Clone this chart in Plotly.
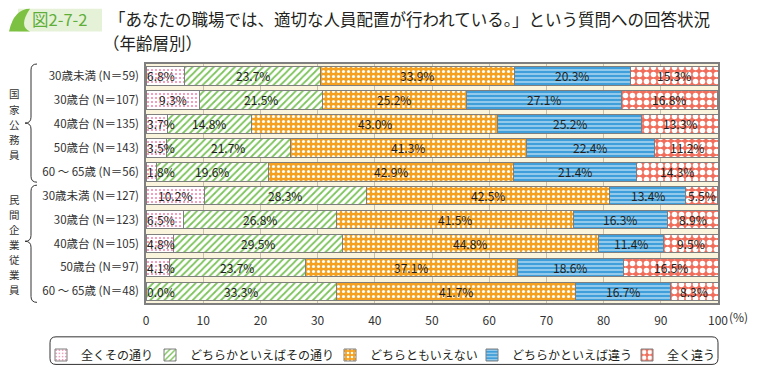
import plotly.graph_objects as go

# ---------------- data ----------------
categories = ["30歳未満 (N＝59)", "30歳台 (N＝107)", "40歳台 (N＝135)", "50歳台 (N＝143)", "60 ～ 65歳 (N＝56)",
              "30歳未満 (N＝127)", "30歳台 (N＝123)", "40歳台 (N＝105)", "50歳台 (N＝97)", "60 ～ 65歳 (N＝48)"]
answers = ["全くその通り", "どちらかといえばその通り", "どちらともいえない", "どちらかといえば違う", "全く違う"]
totally_agree = [6.8, 9.3, 3.7, 3.5, 1.8, 10.2, 6.5, 4.8, 4.1, 0.0]
somewhat_agree = [23.7, 21.5, 14.8, 21.7, 19.6, 28.3, 26.8, 29.5, 23.7, 33.3]
neither = [33.9, 25.2, 43.0, 41.3, 42.9, 42.5, 41.5, 44.8, 37.1, 41.7]
somewhat_disagree = [20.3, 27.1, 25.2, 22.4, 21.4, 13.4, 16.3, 11.4, 18.6, 16.7]
totally_disagree = [15.3, 16.8, 13.3, 11.2, 14.3, 5.5, 8.9, 9.5, 16.5, 8.3]
groups = ["国家公務員", "民間企業従業員"]
x_ticks = [0, 10, 20, 30, 40, 50, 60, 70, 80, 90, 100]
title_line1 = "「あなたの職場では、適切な人員配置が行われている。」という質問への回答状況"
title_line2 = "（年齢層別）"
fig_label = "図2-7-2"

series = [totally_agree, somewhat_agree, neither, somewhat_disagree, totally_disagree]

# ---------------- styles ----------------
FONT = "Noto Sans CJK JP"
TXT = "#231f20"
styles = [
    dict(bgcolor="#ffffff", fgcolor="#ef7fa8", shape=".", size=4, solidity=0.2),
    dict(bgcolor="#ffffff", fgcolor="#7cc35a", shape="/", size=5, solidity=0.35),
    dict(bgcolor="#f5a01e", fgcolor="#ffffff", shape=".", size=5, solidity=0.3),
    dict(bgcolor="#3e9fda", fgcolor="#ffffff", shape="-", size=4, solidity=0.22),
    dict(bgcolor="#f26e5c", fgcolor="#ffffff", shape=".", size=7, solidity=0.5),
]
# left pixel of each legend entry's text (reference pixels)
legend_text_left = [81, 190, 370, 512, 667]

# page body has an 8px margin: reference pixel p -> figure pixel p - 8
OFF = 8
W, H = 760 - OFF, 375 - OFF
L, R, T, B = 146 - OFF, 42, 64 - OFF, 68
PW, PH = W - L - R, H - T - B


def px(p):
    return (p - OFF - L) / PW


def py(p):
    return (H - B - (p - OFF)) / PH


fig = go.Figure()
legend_ids = ["legend", "legend2", "legend3", "legend4", "legend5"]
for name, vals, st, lid in zip(answers, series, styles, legend_ids):
    fig.add_trace(go.Bar(
        y=categories, x=vals, name=name, orientation="h", legend=lid,
        marker=dict(color=st["bgcolor"], line=dict(color="#7f7f7f", width=1),
                    pattern=dict(shape=st["shape"], bgcolor=st["bgcolor"], fgcolor=st["fgcolor"],
                                 size=st["size"], solidity=st["solidity"], fillmode="replace")),
        hoverinfo="skip",
    ))

annotations = []
# segment value labels
for i, cat in enumerate(categories):
    start = 0.0
    for k, vals in enumerate(series):
        v = vals[i]
        if k == 0 and v < 7:
            annotations.append(dict(x=start, y=cat, xref="x", yref="y", text=f"{v:.1f}%",
                                    showarrow=False, xanchor="left", xshift=-1,
                                    font=dict(size=12, color=TXT, family=FONT)))
        else:
            annotations.append(dict(x=start + v / 2, y=cat, xref="x", yref="y", text=f"{v:.1f}%",
                                    showarrow=False, xanchor="center",
                                    font=dict(size=12, color=TXT, family=FONT)))
        start += v

# group vertical labels (one glyph per annotation, stacked)
STEP = 15.3
for txt, yc in zip(groups, [125, 247]):
    n = len(txt)
    for j, ch in enumerate(txt):
        yy = yc + (j - (n - 1) / 2) * STEP
        annotations.append(dict(x=px(14), y=py(yy), xref="paper", yref="paper", text=ch,
                                showarrow=False, xanchor="center", yanchor="middle",
                                font=dict(size=10.5, color="#333333", family=FONT)))

# (%) unit label
annotations.append(dict(x=1, y=py(320), xref="paper", yref="paper", text="(%)", showarrow=False,
                        xanchor="left", yanchor="middle", xshift=9,
                        font=dict(size=12, color="#333333", family=FONT)))

# title
annotations.append(dict(x=px(107), y=py(18), xref="paper", yref="paper", text=title_line1,
                        showarrow=False, xanchor="left", yanchor="middle",
                        font=dict(size=16.5, color=TXT, family=FONT)))
annotations.append(dict(x=px(101), y=py(42.5), xref="paper", yref="paper", text=title_line2,
                        showarrow=False, xanchor="left", yanchor="middle",
                        font=dict(size=16.5, color=TXT, family=FONT)))
annotations.append(dict(x=px(30), y=py(18.5), xref="paper", yref="paper", text=fig_label,
                        showarrow=False, xanchor="left", yanchor="middle",
                        font=dict(size=16.5, color="#5fae3a", family=FONT)))


def brace(top, tip, bottom, xr=37, xm=31, xt=25):
    c = 6
    pts = [
        f"M{px(xr)},{py(top)}",
        f"Q{px(xm)},{py(top)} {px(xm)},{py(top + c)}",
        f"L{px(xm)},{py(tip - c)}",
        f"Q{px(xm)},{py(tip)} {px(xt)},{py(tip)}",
        f"Q{px(xm)},{py(tip)} {px(xm)},{py(tip + c)}",
        f"L{px(xm)},{py(bottom - c)}",
        f"Q{px(xm)},{py(bottom)} {px(xr)},{py(bottom)}",
    ]
    return " ".join(pts)


def rounded_rect(x0, y0, x1, y1, r):
    rx, ry = r / PW, r / PH
    X0, X1, Y0, Y1 = px(x0), px(x1), py(y0), py(y1)
    return (f"M{X0 + rx},{Y0} L{X1 - rx},{Y0} Q{X1},{Y0} {X1},{Y0 - ry} "
            f"L{X1},{Y1 + ry} Q{X1},{Y1} {X1 - rx},{Y1} L{X0 + rx},{Y1} "
            f"Q{X0},{Y1} {X0},{Y1 + ry} L{X0},{Y0 - ry} Q{X0},{Y0} {X0 + rx},{Y0} Z")


shapes = [
    dict(type="path", xref="paper", yref="paper", path=brace(64, 124, 184),
         line=dict(color="#333333", width=1)),
    dict(type="path", xref="paper", yref="paper", path=brace(187, 244, 306),
         line=dict(color="#333333", width=1)),
    # legend rounded box
    dict(type="path", xref="paper", yref="paper", path=rounded_rect(50, 341, 718, 369, 6),
         line=dict(color="#333333", width=1), fillcolor="rgba(0,0,0,0)"),
    # header label band
    dict(type="path", xref="paper", yref="paper", layer="below",
         path=(f"M{px(18)},{py(8)} L{px(102)},{py(8)} L{px(102)},{py(31)} L{px(18)},{py(31)} Z"),
         fillcolor="#e6f2d8", line=dict(width=0)),
    dict(type="path", xref="paper", yref="paper", layer="below",
         path=(f"M{px(30)},{py(8)} Q{px(14)},{py(8)} {px(9)},{py(31)} L{px(30)},{py(31)} "
               f"Q{px(18)},{py(26)} {px(30)},{py(8)} Z"),
         fillcolor="#7dc142", line=dict(width=0)),
]

legend_layout = {}
for lid, tl in zip(legend_ids, legend_text_left):
    legend_layout[lid] = dict(
        orientation="h", xref="container", yref="container",
        x=(tl - 40 - OFF) / W, xanchor="left", y=(375 - 355) / H, yanchor="middle",
        bgcolor="rgba(0,0,0,0)", borderwidth=0, font=dict(size=12, color=TXT, family=FONT),
        itemclick=False, itemdoubleclick=False)

fig.update_layout(
    width=W, height=H, autosize=False,
    margin=dict(l=L, r=R, t=T, b=B, pad=0),
    barmode="stack", bargap=0.22,
    paper_bgcolor="#ffffff", plot_bgcolor="#fbf4dc",
    font=dict(family=FONT, size=12, color="#333333"),
    showlegend=True,
    xaxis=dict(range=[0, 100], tickvals=x_ticks, ticktext=[str(t) for t in x_ticks],
               showgrid=True, gridcolor="#c8c0ac", gridwidth=1, zeroline=False,
               showline=True, linecolor="#7f7f7f", linewidth=1.5, mirror=True, ticks="",
               ticklabelstandoff=6,
               tickfont=dict(size=12, color="#333333"), fixedrange=True),
    yaxis=dict(type="category", categoryorder="array", categoryarray=categories,
               autorange="reversed", showline=True, linecolor="#7f7f7f", linewidth=1.5,
               mirror=True, ticks="", showgrid=False, ticklabelstandoff=3,
               tickfont=dict(size=11.5, color="#333333"), fixedrange=True),
    annotations=annotations,
    shapes=shapes,
    **legend_layout,
)

fig.write_html("out.html")
